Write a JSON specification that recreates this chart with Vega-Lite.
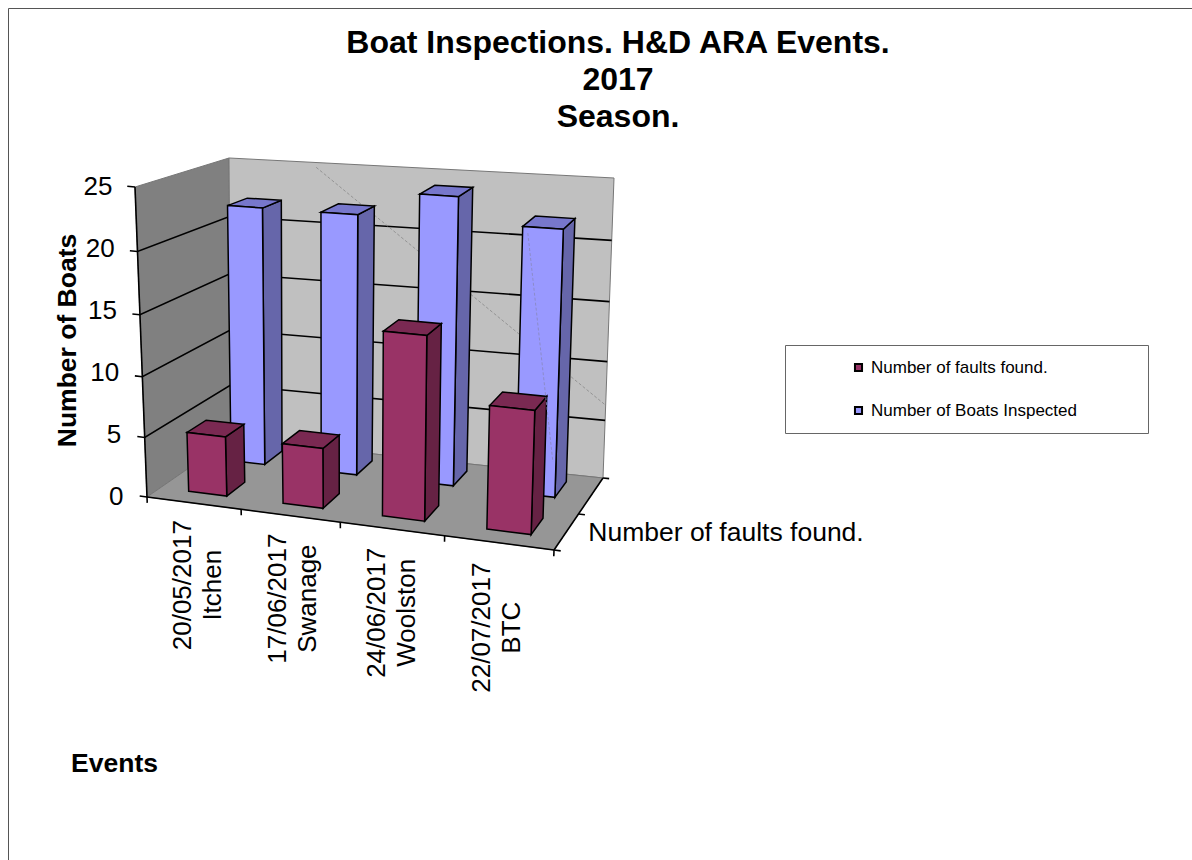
{"$schema":"https://vega.github.io/schema/vega-lite/v6.json","width":1184,"height":852,"autosize":{"type":"none"},"padding":{"left":8,"top":8,"right":0,"bottom":0},"background":"white","config":{"font":"Liberation Sans","view":{"stroke":"#555555","strokeWidth":1}},"title":{"text":["Boat Inspections. H&D ARA Events.","2017","Season."],"anchor":"middle","dx":18,"dy":116,"fontSize":32,"fontWeight":"bold","color":"black","lineHeight":37,"baseline":"top","offset":-10},"datasets":{"bars":[{"event":"20/05/2017\nItchen","series":"Number of Boats Inspected","value":22},{"event":"17/06/2017\nSwanage","series":"Number of Boats Inspected","value":22},{"event":"24/06/2017\nWoolston","series":"Number of Boats Inspected","value":24},{"event":"22/07/2017\nBTC","series":"Number of Boats Inspected","value":22},{"event":"20/05/2017\nItchen","series":"Number of faults found.","value":5},{"event":"17/06/2017\nSwanage","series":"Number of faults found.","value":5},{"event":"24/06/2017\nWoolston","series":"Number of faults found.","value":15},{"event":"22/07/2017\nBTC","series":"Number of faults found.","value":10}]},"encoding":{"x":{"field":"sx","type":"quantitative","scale":{"domain":[8,1192],"nice":false,"zero":false},"axis":{"title":"Events","grid":false,"ticks":false,"labels":false,"domain":false,"titleFontSize":26.5,"titleFontWeight":"bold","titleColor":"black","titleX":106,"titleY":-110,"titleAnchor":"middle"}},"y":{"field":"sy","type":"quantitative","scale":{"domain":[-29.274,39.435],"nice":false,"zero":false},"axis":{"title":"Number of Boats","values":[0,5,10,15,20,25],"grid":false,"domain":false,"ticks":false,"offset":-142,"labelFontSize":26,"labelColor":"black","labelPadding":{"condition":[{"test":"datum.value==25","value":38},{"test":"datum.value==20","value":35.8},{"test":"datum.value==15","value":33.6},{"test":"datum.value==10","value":31.4},{"test":"datum.value==5","value":29.2}],"value":27},"titleFontSize":26.5,"titleFontWeight":"bold","titleColor":"black","titleX":-83,"titleY":332,"titleAngle":270,"titleBaseline":"middle"}}},"layer":[{"data":{"values":[{"surface":"Left wall"},{"surface":"Back wall"},{"surface":"Floor"}]},"transform":[{"calculate":"datum.surface==='Left wall'?[{u:0,w:0,z:0,n:0},{u:0,w:1,z:0,n:1},{u:0,w:1,z:25,n:2},{u:0,w:0,z:25,n:3}]:datum.surface==='Back wall'?[{u:0,w:1,z:0,n:0},{u:4,w:1,z:0,n:1},{u:4,w:1,z:25,n:2},{u:0,w:1,z:25,n:3}]:[{u:0,w:0,z:0,n:0},{u:4,w:0,z:0,n:1},{u:4,w:1,z:0,n:2},{u:0,w:1,z:0,n:3}]","as":"c"},{"flatten":["c"]},{"calculate":"(datum.c.u/4)*(0.9+0.1*datum.c.u/4)","as":"t"},{"calculate":"datum.c.w","as":"d"},{"calculate":"(datum.c.z/25)*(0.95+0.05*datum.c.z/25)","as":"k"},{"calculate":"datum.c.n","as":"n"},{"calculate":"(1-datum.k)*((1-datum.d)*((1-datum.t)*147+datum.t*554)+datum.d*((1-datum.t)*231+datum.t*603))+datum.k*((1-datum.d)*((1-datum.t)*135+datum.t*565)+datum.d*((1-datum.t)*229+datum.t*614))","as":"sx"},{"calculate":"(497-((1-datum.k)*((1-datum.d)*((1-datum.t)*497+datum.t*550)+datum.d*((1-datum.t)*439+datum.t*478))+datum.k*((1-datum.d)*((1-datum.t)*187+datum.t*225)+datum.d*((1-datum.t)*158+datum.t*178))))/12.4","as":"sy"}],"mark":{"type":"line","interpolate":"linear-closed","stroke":"#777777","strokeWidth":1},"encoding":{"order":{"field":"n","type":"quantitative"},"fill":{"field":"surface","type":"nominal","scale":{"domain":["Left wall","Back wall","Floor","Number of faults found.","Number of faults found. side","Number of faults found. top","Number of Boats Inspected","Number of Boats Inspected side","Number of Boats Inspected top"],"range":["#808080","#c0c0c0","#969696","#993366","#662244","#7a2952","#9999ff","#6666aa","#7777cc"]},"legend":{"values":["Number of faults found.","Number of Boats Inspected"],"title":"\u00a0","orient":"none","legendX":777,"legendY":337,"titleOrient":"right","titlePadding":57,"titleFontSize":10,"padding":14,"symbolType":"square","symbolSize":50,"symbolOffset":51,"symbolStrokeColor":"black","symbolStrokeWidth":2,"labelFontSize":17,"labelColor":"black","labelOffset":4,"labelLimit":400,"rowPadding":25,"strokeColor":"#666666","fillColor":"white"}}}},{"data":{"values":[{"level":0},{"level":5},{"level":10},{"level":15},{"level":20},{"level":25}]},"transform":[{"calculate":"datum.level===0||datum.level===25?[{u:-0.08,w:0,z:datum.level,n:0},{u:0,w:0,z:datum.level,n:1}]:[{u:-0.08,w:0,z:datum.level,n:0},{u:0,w:0,z:datum.level,n:1},{u:0,w:1,z:datum.level,n:2},{u:4,w:1,z:datum.level,n:3}]","as":"c"},{"flatten":["c"]},{"calculate":"(datum.c.u/4)*(0.9+0.1*datum.c.u/4)","as":"t"},{"calculate":"datum.c.w","as":"d"},{"calculate":"(datum.c.z/25)*(0.95+0.05*datum.c.z/25)","as":"k"},{"calculate":"datum.c.n","as":"n"},{"calculate":"(1-datum.k)*((1-datum.d)*((1-datum.t)*147+datum.t*554)+datum.d*((1-datum.t)*231+datum.t*603))+datum.k*((1-datum.d)*((1-datum.t)*135+datum.t*565)+datum.d*((1-datum.t)*229+datum.t*614))","as":"sx"},{"calculate":"(497-((1-datum.k)*((1-datum.d)*((1-datum.t)*497+datum.t*550)+datum.d*((1-datum.t)*439+datum.t*478))+datum.k*((1-datum.d)*((1-datum.t)*187+datum.t*225)+datum.d*((1-datum.t)*158+datum.t*178))))/12.4","as":"sy"}],"mark":{"type":"line","color":"black","strokeWidth":1.6},"encoding":{"detail":{"field":"level"},"order":{"field":"n","type":"quantitative"}}},{"data":{"values":[{"part":"wall seam"}]},"transform":[{"calculate":"[{u:0.98,w:1,z:24.6,n:0},{u:4,w:1,z:6.3,n:1}]","as":"c"},{"flatten":["c"]},{"calculate":"(datum.c.u/4)*(0.9+0.1*datum.c.u/4)","as":"t"},{"calculate":"datum.c.w","as":"d"},{"calculate":"(datum.c.z/25)*(0.95+0.05*datum.c.z/25)","as":"k"},{"calculate":"datum.c.n","as":"n"},{"calculate":"(1-datum.k)*((1-datum.d)*((1-datum.t)*147+datum.t*554)+datum.d*((1-datum.t)*231+datum.t*603))+datum.k*((1-datum.d)*((1-datum.t)*135+datum.t*565)+datum.d*((1-datum.t)*229+datum.t*614))","as":"sx"},{"calculate":"(497-((1-datum.k)*((1-datum.d)*((1-datum.t)*497+datum.t*550)+datum.d*((1-datum.t)*439+datum.t*478))+datum.k*((1-datum.d)*((1-datum.t)*187+datum.t*225)+datum.d*((1-datum.t)*158+datum.t*178))))/12.4","as":"sy"}],"mark":{"type":"line","color":"#888888","strokeWidth":0.8,"strokeDash":[3,2]},"encoding":{"order":{"field":"n","type":"quantitative"}}},{"data":{"values":[{"part":"value axis"},{"part":"front edge"},{"part":"depth edge"},{"part":"depth tick 0"},{"part":"depth tick 0.5"},{"part":"depth tick 1"},{"part":"tick 0"},{"part":"tick 1"},{"part":"tick 2"},{"part":"tick 3"},{"part":"tick 4"}]},"transform":[{"calculate":"datum.part==='value axis'?[{u:0,w:0,z:0,n:0},{u:0,w:0,z:25,n:1}]:datum.part==='front edge'?[{u:0,w:0,z:0,n:0},{u:4,w:0,z:0,n:1}]:datum.part==='depth edge'?[{u:4,w:0,z:0,n:0},{u:4,w:1,z:0,n:1}]:slice(datum.part,0,5)==='depth'?[{u:4,w:+slice(datum.part,11),z:0,n:0},{u:4.06,w:+slice(datum.part,11),z:0,n:1}]:[{u:+slice(datum.part,5),w:0,z:0,n:0},{u:+slice(datum.part,5),w:0,z:-0.5,n:1}]","as":"c"},{"flatten":["c"]},{"calculate":"(datum.c.u/4)*(0.9+0.1*datum.c.u/4)","as":"t"},{"calculate":"datum.c.w","as":"d"},{"calculate":"(datum.c.z/25)*(0.95+0.05*datum.c.z/25)","as":"k"},{"calculate":"datum.c.n","as":"n"},{"calculate":"(1-datum.k)*((1-datum.d)*((1-datum.t)*147+datum.t*554)+datum.d*((1-datum.t)*231+datum.t*603))+datum.k*((1-datum.d)*((1-datum.t)*135+datum.t*565)+datum.d*((1-datum.t)*229+datum.t*614))","as":"sx"},{"calculate":"(497-((1-datum.k)*((1-datum.d)*((1-datum.t)*497+datum.t*550)+datum.d*((1-datum.t)*439+datum.t*478))+datum.k*((1-datum.d)*((1-datum.t)*187+datum.t*225)+datum.d*((1-datum.t)*158+datum.t*178))))/12.4","as":"sy"}],"mark":{"type":"line","color":"black","strokeWidth":1.6},"encoding":{"detail":{"field":"part"},"order":{"field":"n","type":"quantitative"}}},{"data":{"name":"bars"},"transform":[{"calculate":"indexof(['20/05/2017\\nItchen','17/06/2017\\nSwanage','24/06/2017\\nWoolston','22/07/2017\\nBTC'],datum.event)","as":"i"},{"calculate":"datum.series==='Number of Boats Inspected'?0.68:0.16","as":"w0"},{"calculate":"datum.series==='Number of Boats Inspected'?0.9:0.39","as":"w1"},{"calculate":"datum.i+0.31","as":"u0"},{"calculate":"datum.series==='Number of Boats Inspected'?datum.i+0.69:datum.i+0.72","as":"u1"},{"calculate":"[{f:' side',n:0,u:datum.u1,w:datum.w0,z:0},{f:' side',n:1,u:datum.u1,w:datum.w1,z:0},{f:' side',n:2,u:datum.u1,w:datum.w1,z:datum.value},{f:' side',n:3,u:datum.u1,w:datum.w0,z:datum.value},{f:' top',n:0,u:datum.u0,w:datum.w0,z:datum.value},{f:' top',n:1,u:datum.u1,w:datum.w0,z:datum.value},{f:' top',n:2,u:datum.u1,w:datum.w1,z:datum.value},{f:' top',n:3,u:datum.u0,w:datum.w1,z:datum.value},{f:'',n:0,u:datum.u0,w:datum.w0,z:0},{f:'',n:1,u:datum.u1,w:datum.w0,z:0},{f:'',n:2,u:datum.u1,w:datum.w0,z:datum.value},{f:'',n:3,u:datum.u0,w:datum.w0,z:datum.value}]","as":"c"},{"flatten":["c"]},{"calculate":"datum.series+datum.c.f","as":"faceFill"},{"calculate":"datum.event+datum.series+datum.c.f","as":"faceKey"},{"calculate":"(datum.c.u/4)*(0.9+0.1*datum.c.u/4)","as":"t"},{"calculate":"datum.c.w","as":"d"},{"calculate":"(datum.c.z/25)*(0.95+0.05*datum.c.z/25)","as":"k"},{"calculate":"datum.c.n","as":"n"},{"calculate":"(1-datum.k)*((1-datum.d)*((1-datum.t)*147+datum.t*554)+datum.d*((1-datum.t)*231+datum.t*603))+datum.k*((1-datum.d)*((1-datum.t)*135+datum.t*565)+datum.d*((1-datum.t)*229+datum.t*614))","as":"sx"},{"calculate":"(497-((1-datum.k)*((1-datum.d)*((1-datum.t)*497+datum.t*550)+datum.d*((1-datum.t)*439+datum.t*478))+datum.k*((1-datum.d)*((1-datum.t)*187+datum.t*225)+datum.d*((1-datum.t)*158+datum.t*178))))/12.4","as":"sy"}],"mark":{"type":"line","interpolate":"linear-closed","stroke":"black","strokeWidth":1.5},"encoding":{"fill":{"field":"faceFill","type":"nominal"},"detail":{"field":"faceKey"},"order":{"field":"n","type":"quantitative"}}},{"data":{"values":[{"part":"bar seam"}]},"transform":[{"calculate":"[{u:3.36,w:0.68,z:21.5,n:0},{u:3.66,w:0.68,z:3,n:1}]","as":"c"},{"flatten":["c"]},{"calculate":"(datum.c.u/4)*(0.9+0.1*datum.c.u/4)","as":"t"},{"calculate":"datum.c.w","as":"d"},{"calculate":"(datum.c.z/25)*(0.95+0.05*datum.c.z/25)","as":"k"},{"calculate":"datum.c.n","as":"n"},{"calculate":"(1-datum.k)*((1-datum.d)*((1-datum.t)*147+datum.t*554)+datum.d*((1-datum.t)*231+datum.t*603))+datum.k*((1-datum.d)*((1-datum.t)*135+datum.t*565)+datum.d*((1-datum.t)*229+datum.t*614))","as":"sx"},{"calculate":"(497-((1-datum.k)*((1-datum.d)*((1-datum.t)*497+datum.t*550)+datum.d*((1-datum.t)*439+datum.t*478))+datum.k*((1-datum.d)*((1-datum.t)*187+datum.t*225)+datum.d*((1-datum.t)*158+datum.t*178))))/12.4","as":"sy"}],"mark":{"type":"line","color":"#8888bb","strokeWidth":0.8,"strokeDash":[3,2]},"encoding":{"order":{"field":"n","type":"quantitative"}}},{"data":{"name":"bars"},"transform":[{"filter":"datum.series==='Number of faults found.'"},{"calculate":"indexof(['20/05/2017\\nItchen','17/06/2017\\nSwanage','24/06/2017\\nWoolston','22/07/2017\\nBTC'],datum.event)","as":"i"},{"calculate":"{u:datum.i+0.36,w:0,z:-7.2}","as":"c"},{"calculate":"(datum.c.u/4)*(0.9+0.1*datum.c.u/4)","as":"t"},{"calculate":"datum.c.w","as":"d"},{"calculate":"(datum.c.z/25)*(0.95+0.05*datum.c.z/25)","as":"k"},{"calculate":"(1-datum.k)*((1-datum.d)*((1-datum.t)*147+datum.t*554)+datum.d*((1-datum.t)*231+datum.t*603))+datum.k*((1-datum.d)*((1-datum.t)*135+datum.t*565)+datum.d*((1-datum.t)*229+datum.t*614))","as":"sx"},{"calculate":"(497-((1-datum.k)*((1-datum.d)*((1-datum.t)*497+datum.t*550)+datum.d*((1-datum.t)*439+datum.t*478))+datum.k*((1-datum.d)*((1-datum.t)*187+datum.t*225)+datum.d*((1-datum.t)*158+datum.t*178))))/12.4","as":"sy"}],"mark":{"type":"text","angle":270,"align":"center","baseline":"middle","lineBreak":"\n","lineHeight":30,"fontSize":26,"color":"black"},"encoding":{"text":{"field":"event"}}},{"data":{"values":[{"label":"Number of faults found."}]},"transform":[{"calculate":"{u:4,w:0.23,z:0}","as":"c"},{"calculate":"(datum.c.u/4)*(0.9+0.1*datum.c.u/4)","as":"t"},{"calculate":"datum.c.w","as":"d"},{"calculate":"(datum.c.z/25)*(0.95+0.05*datum.c.z/25)","as":"k"},{"calculate":"(1-datum.k)*((1-datum.d)*((1-datum.t)*147+datum.t*554)+datum.d*((1-datum.t)*231+datum.t*603))+datum.k*((1-datum.d)*((1-datum.t)*135+datum.t*565)+datum.d*((1-datum.t)*229+datum.t*614))","as":"sx"},{"calculate":"(497-((1-datum.k)*((1-datum.d)*((1-datum.t)*497+datum.t*550)+datum.d*((1-datum.t)*439+datum.t*478))+datum.k*((1-datum.d)*((1-datum.t)*187+datum.t*225)+datum.d*((1-datum.t)*158+datum.t*178))))/12.4","as":"sy"}],"mark":{"type":"text","align":"left","baseline":"middle","dx":23,"fontSize":26.5,"color":"black"},"encoding":{"text":{"field":"label"}}}]}
